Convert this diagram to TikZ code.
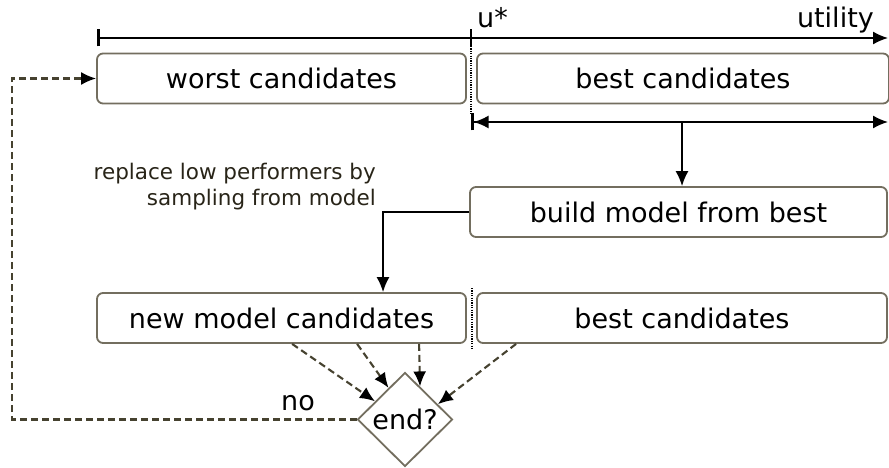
\documentclass[tikz,border=0pt]{standalone}
\usepackage{fontspec}
\setmainfont{DejaVu Sans}
\usetikzlibrary{arrows.meta,shapes.geometric,calc}

\definecolor{boxline}{RGB}{115,110,95}
\definecolor{loopline}{RGB}{70,66,48}
\definecolor{labeltext}{RGB}{40,36,24}

\tikzset{
  tip/.tip={Latex[length=15pt,width=13pt]},
  tick/.tip={Bar[width=17pt,line width=2.6pt]},
  box/.style={draw=boxline, line width=1.8pt, fill=white, rounded corners=6pt,
              minimum height=50pt, inner sep=0pt,
              font=\fontsize{27}{32}\selectfont},
  decision/.style={diamond, draw=boxline, line width=1.8pt, fill=white,
                   minimum width=95pt, minimum height=94pt, inner sep=0pt,
                   font=\fontsize{27}{32}\selectfont},
  axisline/.style={line width=1.6pt, black},
  flow/.style={line width=1.6pt, black, -tip},
  loopflow/.style={line width=2.1pt, loopline, dash pattern=on 7pt off 4pt,
                   -{Latex[length=15pt,width=13pt,color=black]}},
  cut/.style={line width=2pt, black, dash pattern=on 1.2pt off 1.2pt},
  caption/.style={font=\fontsize{27}{32}\selectfont, inner sep=0pt},
  note/.style={font=\fontsize{21.5}{26}\selectfont, text=labeltext,
               align=right, inner sep=0pt}
}

\begin{document}
\begin{tikzpicture}[x=1pt,y=-1pt]
  \useasboundingbox (0,0) rectangle (889,468);

  % utility axis with the threshold u*
  \coordinate (axL) at (97,38);
  \coordinate (axR) at (888,38);
  \coordinate (ustar) at (471,38);
  \draw[axisline, tick-tip] (axL) -- (axR);
  \draw[line width=2.6pt] ($(ustar)+(0,-8.5)$) -- ($(ustar)+(0,8.5)$);
  \node[caption, anchor=base west] (ulab) at (477,28) {u*};
  \node[caption, anchor=base east] (utlab) at (874,28) {utility};

  % current population split at u*
  \node[box, minimum width=369pt] (worst) at (281.5,78.5) {worst candidates};
  \node[box, minimum width=412pt] (best) at (683,78.5) {best candidates};

  % cut through the population
  \coordinate (cutT) at (471,46);
  \coordinate (cutB) at (471,114);
  \draw[cut] (cutT) -- (cutB);

  % range of the best candidates
  \coordinate (bestL) at (471,122);
  \coordinate (bestR) at (888,122);
  \coordinate (bestM) at (682,122);
  \draw[axisline, {tick[sep=0pt]tip}-tip] (bestL) -- (bestR);

  % model building
  \node[box, minimum width=417pt] (build) at (678.5,212) {build model from best};
  \draw[flow] (bestM) -- (bestM |- build.north);

  % next population
  \node[box, minimum width=369pt] (newc) at (281.5,318) {new model candidates};
  \node[box, minimum width=410pt] (best2) at (682,318) {best candidates};
  \coordinate (cut2T) at (472,288);
  \coordinate (cut2B) at (472,350);
  \draw[cut] (cut2T) -- (cut2B);

  \draw[flow] (build.west) -| ([xshift=101.5pt]newc.north);
  \node[note, anchor=base east] (rep) at (376,205)
       {replace low performers by\\sampling from model};

  % termination test
  \node[decision] (endq) at (405,419.5) {end?};
  \draw[loopflow] ([xshift=196pt]newc.south west) -- ($(endq.west)!0.38!(endq.north)$);
  \draw[loopflow] ([xshift=261pt]newc.south west) -- ($(endq.west)!0.66!(endq.north)$);
  \draw[loopflow] ([xshift=323pt]newc.south west) -- ($(endq.north)!0.31!(endq.east)$);
  \draw[loopflow] ([xshift=40pt]best2.south west) -- ($(endq.north)!0.68!(endq.east)$);

  % loop back when not finished
  \coordinate (loopc) at (12,419.5);
  \draw[loopflow] (endq.west) -- (loopc) |- (worst.west);
  \node[caption, anchor=base] (nolab) at (298,410) {no};
\end{tikzpicture}
\end{document}
